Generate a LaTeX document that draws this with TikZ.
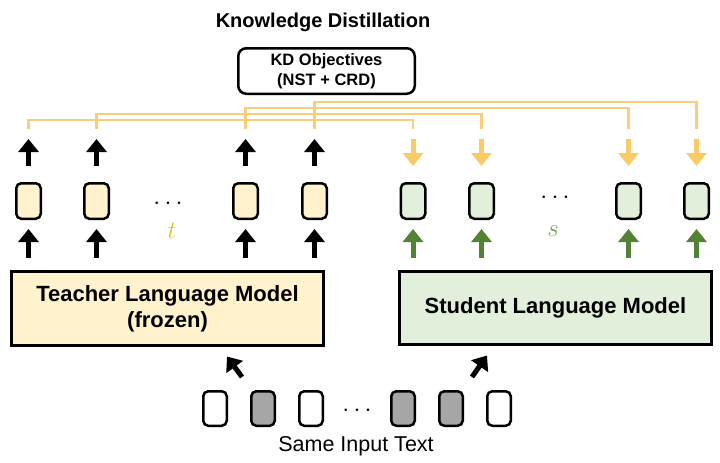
\documentclass[tikz,border=0pt]{standalone}
\usepackage{fontspec}
\setmainfont{Liberation Sans}
\usetikzlibrary{arrows.meta}
\definecolor{kdline}{HTML}{F8CF78}
\definecolor{kdarrow}{HTML}{F9CA66}
\definecolor{tfill}{HTML}{FFF2CC}
\definecolor{sfill}{HTML}{E2EFDA}
\definecolor{sgreen}{HTML}{548235}
\definecolor{tcol}{HTML}{E3BC2C}
\definecolor{scol}{HTML}{78A455}
\definecolor{ingray}{HTML}{A6A6A6}
\begin{document}
\begin{tikzpicture}[x=1pt,y=-1pt,
  token/.style={draw=black, line width=2.5pt, rounded corners=5pt, minimum width=24.5pt, minimum height=35.5pt, inner sep=0pt},
  tok/.style={token, fill=tfill},
  stok/.style={token, fill=sfill},
  intok/.style={token, fill=white, minimum width=23.5pt, minimum height=34.5pt},
  model/.style={draw=black, line width=3pt, minimum width=312pt, inner sep=0pt, align=center, font=\fontsize{22}{26}\selectfont\bfseries},
  uparrow/.style={line width=5pt, -{Triangle[width=20pt,length=13pt]}},
  kdl/.style={draw=kdline, line width=2.4pt},
  dots/.style={font=\fontsize{26}{26}\selectfont, inner sep=0pt}
]
\useasboundingbox (0,0) rectangle (720,463);

% title and objectives
\node[font=\fontsize{20}{22}\selectfont\bfseries] (title) at (323,22) {Knowledge Distillation};
\node[draw=black, line width=2.5pt, rounded corners=8pt, minimum width=176.5pt, minimum height=45.5pt, align=center, inner sep=0pt,
      font=\fontsize{16.5}{20}\selectfont\bfseries] (kd) at (326.5,71) {KD Objectives\\(NST + CRD)};

% teacher tokens
\node[tok] (t1) at (28.5,201) {};
\node[tok] (t2) at (96.5,201) {};
\node[tok] (t3) at (245.5,201) {};
\node[tok] (t4) at (314.5,201) {};
\node[dots] (tdots) at (168,204) {$\cdots$};
\node[font=\fontsize{25}{25}\selectfont, text=tcol, inner sep=0pt] (tl) at (172,231) {$t$};

% student tokens
\node[stok] (s1) at (413,201) {};
\node[stok] (s2) at (481.5,201) {};
\node[stok] (s3) at (628.5,201) {};
\node[stok] (s4) at (696.5,201) {};
\node[dots] (sdots) at (555,198) {$\cdots$};
\node[font=\fontsize{25}{25}\selectfont, text=scol, inner sep=0pt] (sl) at (553,231) {$s$};

% models
\node[model, fill=tfill, minimum height=74pt] (teacher) at (167.5,308.5) {Teacher Language Model\\(frozen)};
\node[model, fill=sfill, minimum height=73pt] (student) at (555.5,308) {Student Language Model};

% input tokens
\node[intok] (i1) at (215,408.5) {};
\node[intok, fill=ingray] (i2) at (263,408.5) {};
\node[intok] (i3) at (311,408.5) {};
\node[dots] (idots) at (357,411) {$\cdots$};
\node[intok, fill=ingray] (i4) at (403,408.5) {};
\node[intok, fill=ingray] (i5) at (451,408.5) {};
\node[intok] (i6) at (499,408.5) {};
\node[font=\fontsize{21.5}{24}\selectfont] (inlabel) at (356,446) {Same Input Text};

% input to models
\coordinate (inL) at (242,377);
\coordinate (inR) at (472,377);
\draw[uparrow] (inL) -- ([shift={(59.5,9.5)}]teacher.south);
\draw[uparrow] (inR) -- ([shift={(-68.5,9.5)}]student.south);

% model to tokens
\foreach \t in {t1,t2,t3,t4}{
  \draw[uparrow] ([yshift=12.5pt]teacher.north -| \t) -- ([yshift=-9pt]\t.south);
  \draw[uparrow] ([yshift=16pt]\t.north) -- ([yshift=43pt]\t.north);
}
\foreach \s in {s1,s2,s3,s4}{
  \draw[uparrow, draw=sgreen, fill=sgreen] ([yshift=12.5pt]student.north -| \s) -- ([yshift=-9pt]\s.south);
  \draw[uparrow, draw=kdarrow, fill=kdarrow] ([yshift=43pt]\s.north) -- ([yshift=16pt]\s.north);
}

% KD connectors
\draw[kdl] ([yshift=53pt]t1.north) -- ++(0,-9) -| ([yshift=53pt]s1.north);
\draw[kdl] ([yshift=53pt]t2.north) -- ++(0,-15) -| ([yshift=53pt]s2.north);
\draw[kdl] ([yshift=53pt]t3.north) -- ++(0,-21) -| ([yshift=53pt]s3.north);
\draw[kdl] ([yshift=53pt]t4.north) -- ++(0,-27) -| ([yshift=53pt]s4.north);
\end{tikzpicture}
\end{document}
